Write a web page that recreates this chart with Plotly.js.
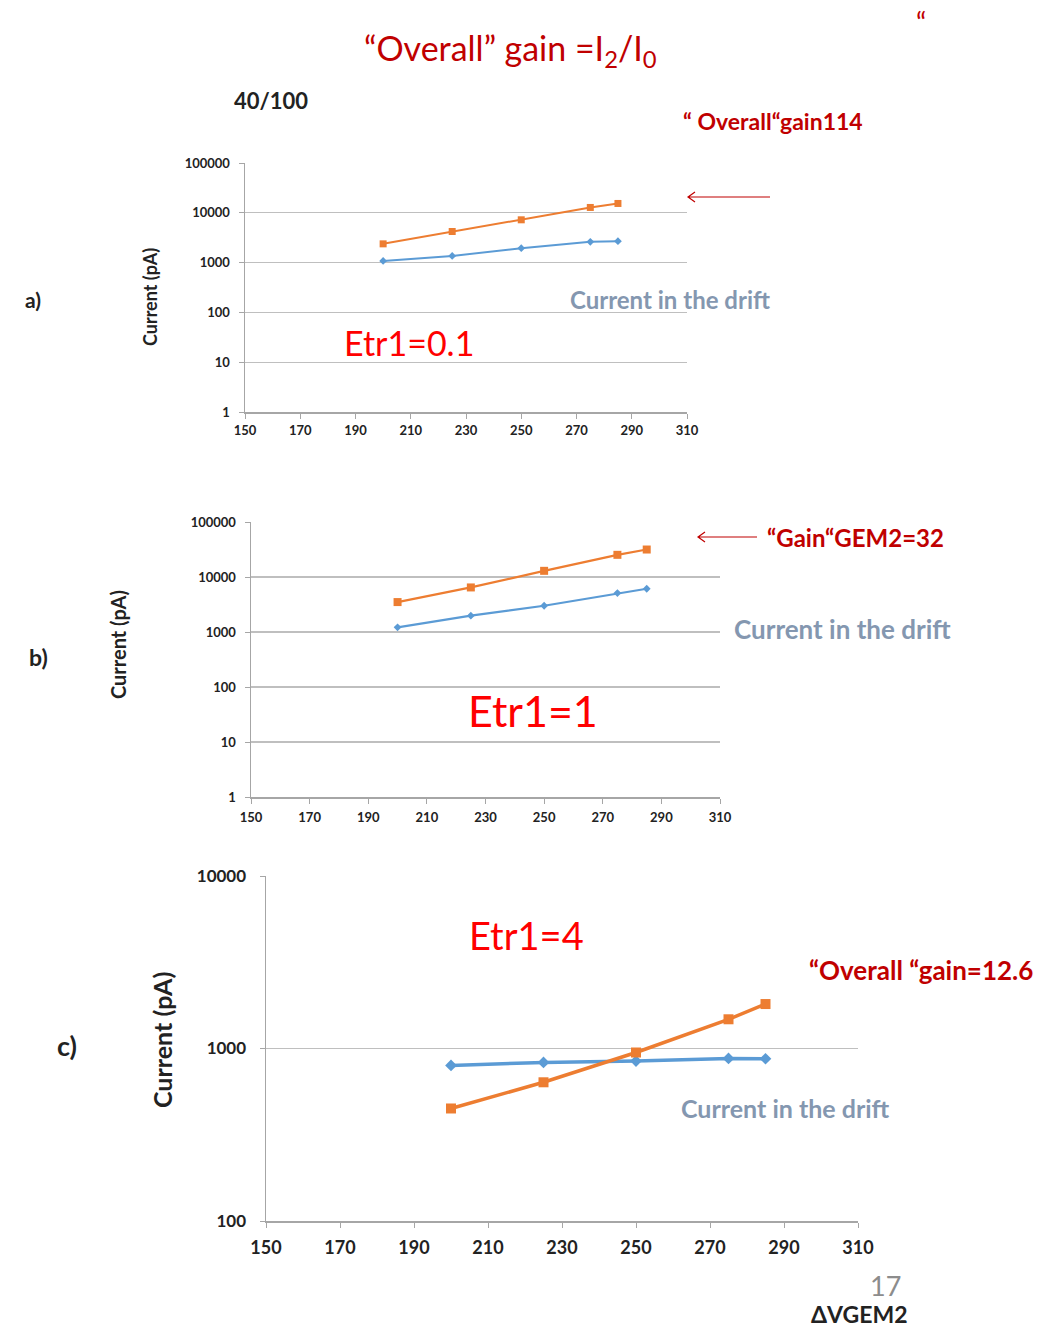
<!DOCTYPE html>
<html>
<head>
<meta charset="utf-8">
<script src="https://cdn.plot.ly/plotly-3.0.1.min.js"></script>
<style>
  html, body { margin: 0; padding: 0; background: #fff; }
  #chart { width: 1056px; height: 1329px; }
</style>
</head>
<body>
<div id="chart"></div>
<script>
// ΔV across GEM2 (V)
const vgem2 = [200, 225, 250, 275, 285];

// Etr1 = 0.1
const a_overall = [2380, 4210, 7230, 12800, 15400];
const a_drift   = [1080, 1360, 1945, 2610, 2690];

// Etr1 = 1
const b_overall = [3500, 6460, 12950, 25300, 31600];
const b_drift   = [1216, 1980, 3000, 5100, 6110];

// Etr1 = 4
const c_overall = [449, 637, 948, 1477, 1810];
const c_drift   = [798, 830, 845, 876, 872];

const xTicks = [150, 170, 190, 210, 230, 250, 270, 290, 310];
const yTicksAB = [1, 10, 100, 1000, 10000, 100000];
const yTicksC = [100, 1000, 10000];

const W = 1056, H = 1329;
const px = v => v / W;
const py = v => 1 - v / H;

const BLUE = '#5b9bd5';
const ORANGE = '#ed7d31';
const DARKRED = '#c00000';
const SLATE = '#8497b0';
const FONT = 'Lato, "Open Sans", sans-serif';

function seriesPair(y1, y2, xa, ya, lw, msD, msS) {
  return [
    { x: vgem2, y: y2, xaxis: xa, yaxis: ya, type: 'scatter', mode: 'lines+markers',
      line: { color: BLUE, width: lw }, marker: { symbol: 'diamond', size: msD, color: BLUE },
      name: 'Current in the drift', showlegend: false },
    { x: vgem2, y: y1, xaxis: xa, yaxis: ya, type: 'scatter', mode: 'lines+markers',
      line: { color: ORANGE, width: lw }, marker: { symbol: 'square', size: msS, color: ORANGE },
      name: 'Overall', showlegend: false }
  ];
}

const data = [
  ...seriesPair(a_overall, a_drift, 'x', 'y', 2, 6, 7),
  ...seriesPair(b_overall, b_drift, 'x2', 'y2', 2.2, 6, 8),
  ...seriesPair(c_overall, c_drift, 'x3', 'y3', 3.5, 9, 10)
];

function xAxis(dom, anchor, size, standoff) {
  return {
    domain: dom, anchor: anchor, range: [150, 310], tickvals: xTicks,
    ticktext: xTicks.map(String), showgrid: false, zeroline: false,
    showline: true, linecolor: '#a6a6a6', linewidth: 1.5,
    ticks: 'outside', ticklen: 5, tickcolor: '#a6a6a6', ticklabelstandoff: standoff,
    tickfont: { family: FONT, size: size, color: '#222', weight: 'bold' }
  };
}
function yAxis(dom, anchor, range, vals, size, standoff) {
  return {
    domain: dom, anchor: anchor, type: 'log', range: range, tickvals: vals,
    ticktext: vals.map(String), showgrid: true, gridcolor: '#bfbfbf', gridwidth: 1.2,
    zeroline: false, showline: true, linecolor: '#a6a6a6', linewidth: 1.5,
    ticks: 'outside', ticklen: 5, tickcolor: '#a6a6a6', ticklabelstandoff: standoff,
    tickfont: { family: FONT, size: size, color: '#222', weight: 'bold' }
  };
}

const bold = (size, color) => ({ family: FONT, size: size, color: color, weight: 'bold' });
const plain = (size, color) => ({ family: FONT, size: size, color: color });

const ann = (x, y, text, font, opts = {}) => Object.assign({
  xref: 'paper', yref: 'paper', x: px(x), y: py(y), text: text, showarrow: false,
  xanchor: 'center', yanchor: 'middle', font: font
}, opts);

const annotations = [
  ann(510, 50, '“Overall” gain =I<sub>2</sub>/I<sub>0</sub>', plain(34, DARKRED)),
  ann(921, 22, '“', plain(28, DARKRED)),
  ann(271, 101, '40/100', bold(22, '#222')),
  ann(773, 121, '“ Overall“gain114', bold(23, DARKRED)),
  ann(670, 300, 'Current in the drift', bold(24, SLATE)),
  ann(409, 343, 'Etr1=0.1', plain(34, '#ff0000')),
  ann(150, 297, 'Current (pA)', bold(18, '#222'), { textangle: -90 }),
  ann(33, 300, 'a)', bold(21, '#222')),

  ann(855, 537, '“Gain“GEM2=32', bold(24, DARKRED)),
  ann(842, 629, 'Current in the drift', bold(26, SLATE)),
  ann(533, 710, 'Etr1=1', plain(43, '#ff0000')),
  ann(118, 645, 'Current (pA)', bold(20, '#222'), { textangle: -90 }),
  ann(38, 657, 'b)', bold(23, '#222')),

  ann(526, 935, 'Etr1=4', plain(38, '#ff0000')),
  ann(921, 970, '“Overall “gain=12.6', bold(26, DARKRED)),
  ann(785, 1108, 'Current in the drift', bold(25, SLATE)),
  ann(162, 1040, 'Current (pA)', bold(25, '#222'), { textangle: -90 }),
  ann(67, 1045, 'c)', bold(27, '#222')),

  ann(885, 1285, '17', plain(27, '#8c8c8c')),
  ann(859, 1314, 'ΔVGEM2', bold(23, '#222'))
];

// thin arrows with open heads pointing at the plots
function arrowPath(xTail, xHead, y) {
  const h = 7, v = 5;
  return `M ${px(xTail)} ${py(y)} L ${px(xHead)} ${py(y)} ` +
         `M ${px(xHead + h)} ${py(y - v)} L ${px(xHead)} ${py(y)} L ${px(xHead + h)} ${py(y + v)}`;
}
const shapes = [
  { type: 'path', xref: 'paper', yref: 'paper', path: arrowPath(770, 688, 197), line: { color: DARKRED, width: 1.2 } },
  { type: 'path', xref: 'paper', yref: 'paper', path: arrowPath(757, 698, 537), line: { color: DARKRED, width: 1.2 } }
];

const layout = {
  width: W, height: H,
  margin: { l: 0, r: 0, t: 0, b: 0 },
  paper_bgcolor: '#fff', plot_bgcolor: '#fff',
  showlegend: false,
  xaxis:  xAxis([px(245), px(687)], 'y', 13, 1),
  yaxis:  yAxis([py(412), py(163)], 'x', [0, 5], yTicksAB, 13, 6),
  xaxis2: xAxis([px(251), px(720)], 'y2', 13, 3),
  yaxis2: yAxis([py(797), py(522)], 'x2', [0, 5], yTicksAB, 13, 6),
  xaxis3: xAxis([px(266), px(858)], 'y3', 18, 5),
  yaxis3: yAxis([py(1221), py(876)], 'x3', [2, 4], yTicksC, 17, 10),
  annotations: annotations,
  shapes: shapes
};

Plotly.newPlot('chart', data, layout, { displayModeBar: false, staticPlot: true });
</script>
</body>
</html>
